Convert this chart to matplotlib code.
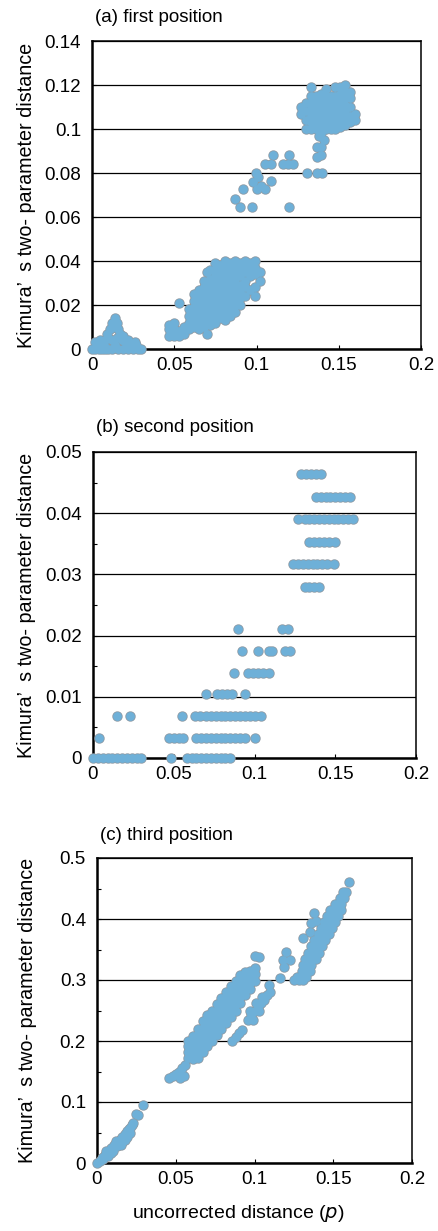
import numpy as np
import matplotlib
matplotlib.use('Agg')
import matplotlib.pyplot as plt
from matplotlib.ticker import FuncFormatter, MultipleLocator

plt.rcParams['font.family'] = ['Liberation Sans', 'DejaVu Sans']

# ---- (a) first position ----
a_origin = [(0.000, 0.000), (0.002, 0.000), (0.004, 0.000), (0.006, 0.000), (0.008, 0.000),
            (0.010, 0.000), (0.012, 0.000), (0.016, 0.000), (0.019, 0.000), (0.022, 0.000),
            (0.025, 0.000), (0.028, 0.000), (0.030, 0.000), (0.002, 0.003), (0.005, 0.004),
            (0.008, 0.004), (0.004, 0.002), (0.009, 0.007), (0.011, 0.009), (0.012, 0.012),
            (0.014, 0.014), (0.015, 0.012), (0.013, 0.010), (0.016, 0.009), (0.017, 0.007),
            (0.015, 0.005), (0.012, 0.004), (0.018, 0.004), (0.020, 0.003), (0.022, 0.004),
            (0.024, 0.002), (0.026, 0.003), (0.027, 0.002), (0.010, 0.005), (0.007, 0.002),
            (0.019, 0.006), (0.014, 0.002)]

# columns of the low blob: x, list of y
a_low_cols = [(0.047, [0.006, 0.009, 0.011]),
              (0.050, [0.006, 0.009, 0.012]),
              (0.053, [0.006, 0.008, 0.021]),
              (0.056, [0.007, 0.010]),
              (0.059, [0.009, 0.012, 0.015, 0.018]),
              (0.062, [0.010, 0.013, 0.016, 0.019, 0.022, 0.025]),
              (0.065, [0.009, 0.012, 0.015, 0.018, 0.021, 0.024, 0.027]),
              (0.068, [0.010, 0.013, 0.016, 0.019, 0.022, 0.025, 0.028, 0.031]),
              (0.070, [0.007, 0.012, 0.018, 0.024, 0.030, 0.035]),
              (0.072, [0.011, 0.014, 0.017, 0.020, 0.023, 0.026, 0.029, 0.032, 0.036]),
              (0.075, [0.012, 0.015, 0.018, 0.021, 0.024, 0.027, 0.030, 0.033, 0.036, 0.039]),
              (0.078, [0.014, 0.017, 0.020, 0.023, 0.026, 0.029, 0.032, 0.035, 0.038]),
              (0.081, [0.013, 0.016, 0.019, 0.022, 0.025, 0.028, 0.031, 0.034, 0.037, 0.040]),
              (0.084, [0.015, 0.018, 0.021, 0.024, 0.027, 0.030, 0.033, 0.036, 0.039]),
              (0.087, [0.017, 0.020, 0.023, 0.026, 0.029, 0.032, 0.035, 0.038, 0.040]),
              (0.090, [0.020, 0.023, 0.026, 0.029, 0.033, 0.036, 0.039]),
              (0.093, [0.024, 0.028, 0.031, 0.035, 0.038, 0.040]),
              (0.096, [0.027, 0.033, 0.036, 0.039]),
              (0.099, [0.024, 0.028, 0.034, 0.037, 0.040]),
              (0.102, [0.031, 0.035])]

a_mid = [(0.087, 0.068), (0.092, 0.0727), (0.090, 0.0647), (0.097, 0.0644), (0.0996, 0.080),
         (0.101, 0.078), (0.098, 0.0758), (0.103, 0.074), (0.100, 0.0727), (0.105, 0.0727),
         (0.109, 0.0765), (0.105, 0.084), (0.110, 0.088), (0.109, 0.084), (0.116, 0.084),
         (0.120, 0.088), (0.122, 0.084), (0.120, 0.0644), (0.131, 0.080), (0.1366, 0.080),
         (0.1397, 0.080), (0.137, 0.0874), (0.139, 0.0917), (0.137, 0.0917), (0.138, 0.097),
         (0.141, 0.095), (0.119, 0.084), (0.139, 0.088)]

a_top_cols = [(0.127, [0.107, 0.110]),
              (0.130, [0.100, 0.104, 0.108, 0.112]),
              (0.133, [0.100, 0.103, 0.106, 0.109, 0.112, 0.115, 0.119]),
              (0.136, [0.100, 0.103, 0.106, 0.109, 0.112, 0.115]),
              (0.139, [0.098, 0.101, 0.104, 0.107, 0.110, 0.113, 0.116]),
              (0.142, [0.100, 0.103, 0.106, 0.109, 0.112, 0.115, 0.118]),
              (0.145, [0.100, 0.103, 0.106, 0.109, 0.112, 0.115]),
              (0.148, [0.100, 0.103, 0.106, 0.109, 0.112, 0.115, 0.119]),
              (0.151, [0.101, 0.104, 0.107, 0.110, 0.113, 0.116, 0.119]),
              (0.154, [0.102, 0.105, 0.108, 0.111, 0.114, 0.117, 0.120]),
              (0.157, [0.103, 0.106, 0.110, 0.114, 0.117]),
              (0.160, [0.104, 0.107])]

# ---- (b) second position: discrete y levels and the x values on each ----
b_levels = [0.0, 0.0033, 0.0069, 0.0104, 0.0139, 0.0175, 0.0211,
            0.0279, 0.0317, 0.0353, 0.039, 0.0426, 0.0464]
b_x_on_level = [
    [0.000, 0.003, 0.006, 0.009, 0.012, 0.015, 0.018, 0.021, 0.024, 0.027, 0.030, 0.048,
     0.058, 0.061, 0.064, 0.067, 0.070, 0.073, 0.076, 0.079, 0.082, 0.085],
    [0.004, 0.047, 0.050, 0.053, 0.056, 0.064, 0.067, 0.070, 0.073, 0.076, 0.079, 0.082,
     0.085, 0.088, 0.091, 0.094, 0.100],
    [0.015, 0.023, 0.055, 0.063, 0.066, 0.070, 0.073, 0.076, 0.079, 0.082, 0.085, 0.088,
     0.091, 0.094, 0.097, 0.100, 0.104],
    [0.070, 0.077, 0.080, 0.083, 0.086, 0.094],
    [0.087, 0.096, 0.099, 0.102, 0.105, 0.109],
    [0.092, 0.102, 0.109, 0.111, 0.119, 0.122],
    [0.090, 0.117, 0.121],
    [0.131, 0.134, 0.137, 0.140],
    [0.124, 0.127, 0.130, 0.133, 0.136, 0.139, 0.142, 0.145, 0.149],
    [0.134, 0.137, 0.140, 0.143, 0.146, 0.150],
    [0.127, 0.131, 0.134, 0.137, 0.140, 0.143, 0.146, 0.149, 0.152, 0.155, 0.158, 0.161],
    [0.138, 0.141, 0.144, 0.147, 0.150, 0.153, 0.156, 0.159],
    [0.129, 0.132, 0.135, 0.138, 0.141],
]

# ---- (c) third position ----
c_origin = [(0.000, 0.000), (0.002, 0.004), (0.003, 0.008), (0.004, 0.010), (0.005, 0.013),
            (0.006, 0.016), (0.007, 0.018), (0.008, 0.022), (0.009, 0.024), (0.010, 0.026),
            (0.011, 0.030), (0.012, 0.032), (0.013, 0.034), (0.014, 0.036), (0.015, 0.040),
            (0.016, 0.042), (0.017, 0.044), (0.018, 0.048), (0.019, 0.052), (0.020, 0.055),
            (0.021, 0.058), (0.022, 0.062), (0.023, 0.065), (0.004, 0.006), (0.007, 0.012),
            (0.010, 0.020), (0.013, 0.028), (0.016, 0.035), (0.019, 0.042), (0.006, 0.020),
            (0.012, 0.036), (0.0262, 0.0787), (0.0294, 0.095), (0.025, 0.080),
            (0.009, 0.016), (0.015, 0.030), (0.018, 0.038), (0.021, 0.050)]

c_seg = [(0.046, 0.140), (0.048, 0.143), (0.050, 0.146), (0.052, 0.150), (0.054, 0.155),
         (0.056, 0.160), (0.053, 0.140), (0.055, 0.142)]

c_band_cols = [(0.058, [0.172, 0.182, 0.192, 0.200]),
               (0.061, [0.170, 0.180, 0.190, 0.200, 0.208]),
               (0.064, [0.172, 0.182, 0.192, 0.202, 0.212, 0.220]),
               (0.067, [0.182, 0.192, 0.202, 0.212, 0.222, 0.232]),
               (0.070, [0.192, 0.202, 0.212, 0.222, 0.232, 0.242]),
               (0.073, [0.200, 0.210, 0.220, 0.230, 0.240, 0.250]),
               (0.076, [0.210, 0.220, 0.230, 0.240, 0.250, 0.260]),
               (0.079, [0.220, 0.230, 0.240, 0.250, 0.260, 0.270]),
               (0.082, [0.230, 0.240, 0.250, 0.260, 0.270, 0.280]),
               (0.085, [0.240, 0.250, 0.260, 0.270, 0.280, 0.290]),
               (0.088, [0.250, 0.260, 0.270, 0.280, 0.290, 0.299]),
               (0.091, [0.262, 0.272, 0.282, 0.292, 0.302, 0.309]),
               (0.094, [0.275, 0.285, 0.295, 0.305, 0.313]),
               (0.097, [0.285, 0.295, 0.305, 0.315]),
               (0.100, [0.298, 0.310, 0.320])]

c_lower = [(0.100, 0.340), (0.103, 0.337), (0.086, 0.200), (0.088, 0.207), (0.090, 0.213),
           (0.092, 0.218), (0.096, 0.235), (0.098, 0.242), (0.100, 0.250), (0.102, 0.256),
           (0.104, 0.262), (0.106, 0.268), (0.108, 0.275), (0.110, 0.280), (0.097, 0.250),
           (0.101, 0.262), (0.105, 0.272), (0.099, 0.235), (0.103, 0.250), (0.1094, 0.292),
           (0.116, 0.303), (0.119, 0.322), (0.118, 0.333), (0.1225, 0.333), (0.120, 0.346),
           (0.131, 0.369), (0.135, 0.379), (0.138, 0.410), (0.139, 0.396), (0.136, 0.393)]

# rows of the steep upper band: y, list of x
c_upper_rows = [(0.300, [0.125, 0.128, 0.131]),
                (0.305, [0.127, 0.130, 0.133]),
                (0.315, [0.130, 0.133, 0.135]),
                (0.325, [0.131, 0.133, 0.136]),
                (0.335, [0.132, 0.134, 0.137, 0.139]),
                (0.345, [0.134, 0.136, 0.139, 0.141]),
                (0.355, [0.136, 0.138, 0.141, 0.143]),
                (0.365, [0.138, 0.140, 0.143, 0.145]),
                (0.375, [0.140, 0.142, 0.145, 0.147]),
                (0.385, [0.142, 0.144, 0.147, 0.149]),
                (0.395, [0.144, 0.146, 0.149, 0.151]),
                (0.405, [0.146, 0.148, 0.151, 0.153]),
                (0.415, [0.148, 0.150, 0.153, 0.155]),
                (0.425, [0.151, 0.153, 0.155]),
                (0.435, [0.154, 0.157]),
                (0.445, [0.156, 0.158]),
                (0.460, [0.160])]


def from_cols(cols):
    xs, ys = [], []
    for x, yl in cols:
        xs += [x] * len(yl)
        ys += yl
    return xs, ys

def from_rows(rows):
    xs, ys = [], []
    for y, xl in rows:
        xs += xl
        ys += [y] * len(xl)
    return xs, ys

def from_pairs(pairs):
    return [p[0] for p in pairs], [p[1] for p in pairs]


ax_x, ax_y = [], []
for xs, ys in [from_pairs(a_origin), from_cols(a_low_cols), from_pairs(a_mid), from_cols(a_top_cols)]:
    ax_x += xs; ax_y += ys

bx_x, bx_y = [], []
for lev, xl in zip(b_levels, b_x_on_level):
    bx_x += xl
    bx_y += [lev] * len(xl)

cx_x, cx_y = [], []
for xs, ys in [from_pairs(c_origin), from_pairs(c_seg), from_cols(c_band_cols),
               from_pairs(c_lower), from_rows(c_upper_rows)]:
    cx_x += xs; cx_y += ys

W, H = 438, 1231
fig = plt.figure(figsize=(W / 100, H / 100), dpi=100)

# axes boxes in pixels: left, top, right, bottom
panels = [
    dict(box=(92, 41, 421, 349), x=ax_x, y=ax_y, ymax=0.14, ystep=0.02, minor=None,
         title='(a) first position', title_y=17, ylab_x=27),
    dict(box=(93, 452, 416, 758), x=bx_x, y=bx_y, ymax=0.05, ystep=0.01, minor=0.005,
         title='(b) second position', title_y=427, ylab_x=27),
    dict(box=(97, 858, 412, 1163), x=cx_x, y=cx_y, ymax=0.5, ystep=0.1, minor=0.05,
         title='(c) third position', title_y=836, ylab_x=28),
]

fmt = FuncFormatter(lambda v, pos: f'{v:g}')

for p in panels:
    l, t, r, b = p['box']
    ax = fig.add_axes([l / W, 1 - b / H, (r - l) / W, (b - t) / H])
    # grey halo first, blue fill on top, so dense clusters read as one solid shape
    ax.scatter(p['x'], p['y'], s=56, marker='o', color='#8e9ba5', linewidth=0,
               zorder=3, clip_on=False)
    ax.scatter(p['x'], p['y'], s=40, marker='o', color='#6eb0d8', linewidth=0,
               zorder=4, clip_on=False)
    ax.set_xlim(0, 0.2)
    ax.set_ylim(0, p['ymax'])
    ax.xaxis.set_major_locator(MultipleLocator(0.05))
    ax.yaxis.set_major_locator(MultipleLocator(p['ystep']))
    if p['minor'] is not None:
        ax.yaxis.set_minor_locator(MultipleLocator(p['minor']))
        ax.tick_params(axis='y', which='minor', direction='in', length=3, width=0.8)
    ax.xaxis.set_major_formatter(fmt)
    ax.yaxis.set_major_formatter(fmt)
    ax.grid(axis='y', color='black', linewidth=0.9, zorder=1)
    ax.set_axisbelow(True)
    ax.tick_params(axis='both', which='major', direction='in', length=3, width=0.8,
                   labelsize=13.5, colors='black')
    ax.tick_params(axis='y', pad=8)
    ax.tick_params(axis='x', pad=6)
    for side in ['top', 'right']:
        ax.spines[side].set_linewidth(1.1)
    for side in ['bottom', 'left']:
        ax.spines[side].set_linewidth(1.8)
    fig.text((l + 3) / W, 1 - p['title_y'] / H, p['title'], fontsize=13.5,
             ha='left', va='center')
    fig.text(p['ylab_x'] / W, 1 - (t + b) / 2 / H, 'Kimura\u2019  s two- parameter distance',
             fontsize=14.2, rotation=90, ha='center', va='center')

fig.text(238 / W, 1 - 1213 / H, 'uncorrected distance ($\\it{p}$)', fontsize=14,
         ha='center', va='center')

fig.savefig('out.png', dpi=100)
